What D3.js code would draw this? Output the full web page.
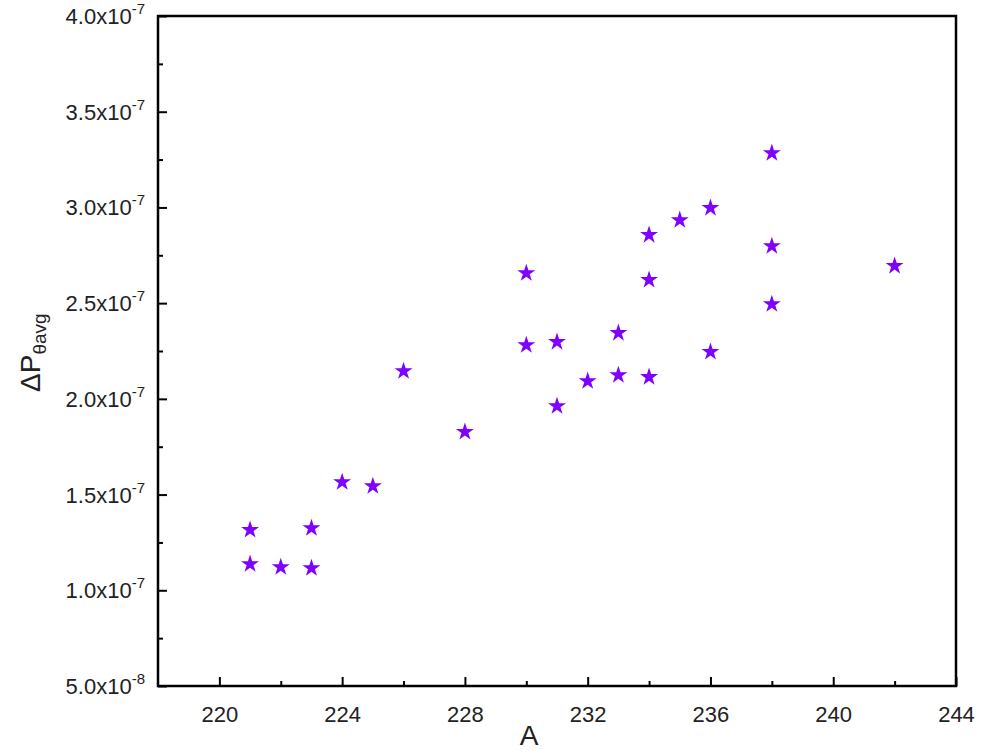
<!DOCTYPE html>
<html><head><meta charset="utf-8">
<script src="https://cdn.jsdelivr.net/npm/d3@7"></script>
<style>body{margin:0;background:#fff}svg{display:block}text{font-family:"Liberation Sans",Arial,sans-serif;fill:#222}</style>
</head><body>
<svg id="c" width="982" height="750"></svg>
<script>
const xValues = [221,221,222,223,223,224,225,226,228,230,230,231,231,232,233,233,234,234,234,235,236,236,238,238,238,242];
const yValues = [1.315e-7,1.137e-7,1.121e-7,1.325e-7,1.116e-7,1.565e-7,1.544e-7,2.145e-7,1.827e-7,2.657e-7,2.281e-7,2.297e-7,1.962e-7,2.093e-7,2.344e-7,2.124e-7,2.856e-7,2.621e-7,2.114e-7,2.934e-7,2.997e-7,2.245e-7,3.284e-7,2.798e-7,2.495e-7,2.694e-7];
const xTicks = [220,224,228,232,236,240,244];
const xMinor = [222,226,230,234,238,242];
const yTicks = [0.5e-7,1.0e-7,1.5e-7,2.0e-7,2.5e-7,3.0e-7,3.5e-7,4.0e-7];
const yTickMantissa = ["5.0","1.0","1.5","2.0","2.5","3.0","3.5","4.0"];
const yTickExp = ["-8","-7","-7","-7","-7","-7","-7","-7"];
const yMinor = [0.75e-7,1.25e-7,1.75e-7,2.25e-7,2.75e-7,3.25e-7,3.75e-7];

const L=158,R=956,T=16,B=686;
const svg=d3.select("#c");
const x=d3.scaleLinear().domain([218,244]).range([L,R]);
const y=d3.scaleLinear().domain([0.5e-7,4.0e-7]).range([B,T]);

// points
svg.append("g").selectAll("path").data(xValues.map((v,i)=>[v,yValues[i]])).join("path")
  .attr("d",d3.symbol(d3.symbolStar,100)())
  .attr("transform",d=>`translate(${x(d[0])},${y(d[1])})`)
  .attr("fill","#7f00ff");

// axes
const gx=svg.append("g").attr("transform",`translate(0,${B})`)
  .call(d3.axisBottom(x).tickValues(xTicks).tickSize(-9).tickPadding(20).tickFormat(d3.format("d")));
gx.select(".domain").remove();
gx.selectAll(".tick line").attr("stroke","#000").attr("stroke-width",2);
gx.selectAll(".tick text").attr("font-size",22).attr("fill","#222").attr("font-family","Liberation Sans, Arial, sans-serif");
const gxm=svg.append("g").attr("transform",`translate(0,${B})`)
  .call(d3.axisBottom(x).tickValues(xMinor).tickSize(-5).tickFormat(""));
gxm.select(".domain").remove();
gxm.selectAll(".tick line").attr("stroke","#000").attr("stroke-width",2);

const gy=svg.append("g").attr("transform",`translate(${L},0)`)
  .call(d3.axisLeft(y).tickValues(yTicks).tickSize(-9).tickFormat(""));
gy.select(".domain").remove();
gy.selectAll(".tick line").attr("stroke","#000").attr("stroke-width",2);
const gym=svg.append("g").attr("transform",`translate(${L},0)`)
  .call(d3.axisLeft(y).tickValues(yMinor).tickSize(-5).tickFormat(""));
gym.select(".domain").remove();
gym.selectAll(".tick line").attr("stroke","#000").attr("stroke-width",2);

// y tick labels with superscript
const yl=svg.append("g").selectAll("text").data(yTicks).join("text")
  .attr("x",145).attr("y",d=>y(d)+8).attr("text-anchor","end").attr("font-size",22);
yl.append("tspan").text((d,i)=>yTickMantissa[i]+"x10");
yl.append("tspan").attr("font-size",15).attr("dy",-10).text((d,i)=>yTickExp[i]);

// frame
svg.append("rect").attr("x",L).attr("y",T).attr("width",R-L).attr("height",B-T)
  .attr("fill","none").attr("stroke","#000").attr("stroke-width",2.5);

// titles
svg.append("text").attr("x",529).attr("y",745).attr("text-anchor","middle").attr("font-size",28).text("A");
const yt=svg.append("text").attr("transform","translate(40,392) rotate(-90)").attr("font-size",28);
yt.append("tspan").text("ΔP");
yt.append("tspan").attr("font-size",19).attr("dy",6).text("θavg");
</script>
</body></html>
